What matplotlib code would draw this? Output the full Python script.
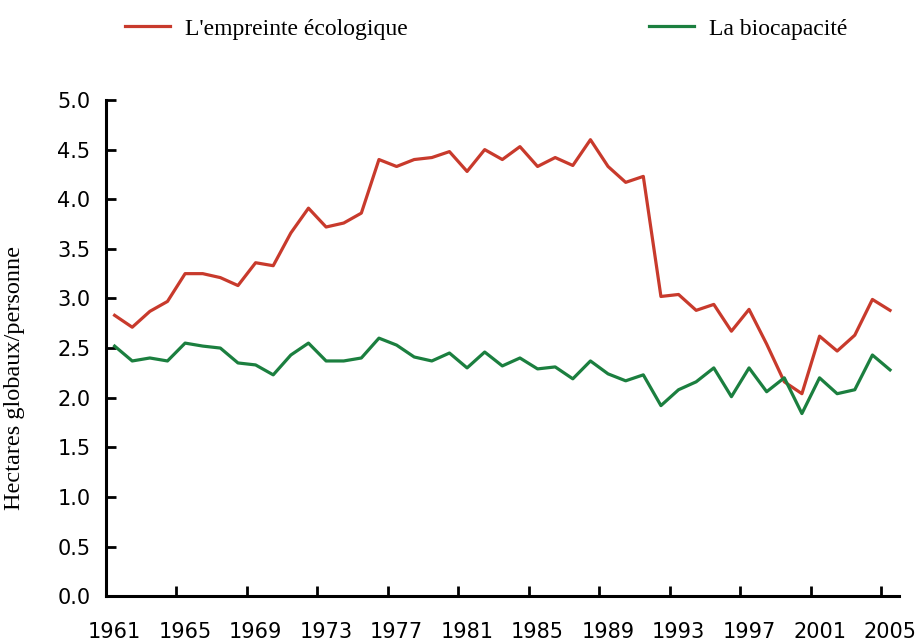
import matplotlib
matplotlib.use('Agg')
import matplotlib.pyplot as plt
import numpy as np

years = list(range(1961, 2006))

# hectares globaux par personne
empreinte = [2.83, 2.71, 2.87, 2.97, 3.25, 3.25, 3.21, 3.13, 3.36, 3.33,
             3.66, 3.91, 3.72, 3.76, 3.86, 4.40, 4.33, 4.40, 4.42, 4.48,
             4.28, 4.50, 4.40, 4.53, 4.33, 4.42, 4.34, 4.60, 4.33, 4.17,
             4.23, 3.02, 3.04, 2.88, 2.94, 2.67, 2.89, 2.54, 2.16, 2.04,
             2.62, 2.47, 2.63, 2.99, 2.88]
biocapacite = [2.52, 2.37, 2.40, 2.37, 2.55, 2.52, 2.50, 2.35, 2.33, 2.23,
               2.43, 2.55, 2.37, 2.37, 2.40, 2.60, 2.53, 2.41, 2.37, 2.45,
               2.30, 2.46, 2.32, 2.40, 2.29, 2.31, 2.19, 2.37, 2.24, 2.17,
               2.23, 1.92, 2.08, 2.16, 2.30, 2.01, 2.30, 2.06, 2.20, 1.84,
               2.20, 2.04, 2.08, 2.43, 2.28]

year_labels = years[::4]
y_ticks = [0.0, 0.5, 1.0, 1.5, 2.0, 2.5, 3.0, 3.5, 4.0, 4.5, 5.0]

red = '#c83a2c'
green = '#1b7f3f'
serif = ['Liberation Serif', 'DejaVu Serif']
sans = ['DejaVu Sans']

fig = plt.figure(figsize=(9.2, 6.41), dpi=100)
ax = fig.add_axes([0.115, 0.070, 0.862, 0.774])

ax.plot(years, empreinte, color=red, lw=2.3, label="L'empreinte écologique")
ax.plot(years, biocapacite, color=green, lw=2.3, label='La biocapacité')

ax.set_xlim(1960.5, 2005.5)
ax.set_ylim(0, 5)

# labels under each 4th year, tick marks between categories
ax.set_xticks(year_labels)
ax.set_xticklabels([str(y) for y in year_labels], fontsize=15, family=sans)
ax.tick_params(axis='x', which='major', length=0, pad=18.5)
ax.set_xticks([y + 3.5 for y in year_labels[:-1]], minor=True)
ax.tick_params(axis='x', which='minor', direction='in', length=7, width=2)

ax.set_yticks(y_ticks)
ax.set_yticklabels([f'{v:.1f}' for v in y_ticks], fontsize=15, family=sans)
ax.tick_params(axis='y', direction='in', length=7, width=2, pad=11)

for side in ['top', 'right']:
    ax.spines[side].set_visible(False)
for side in ['left', 'bottom']:
    ax.spines[side].set_linewidth(2.2)

ax.set_ylabel('Hectares globaux/personne', fontsize=17.5, family=serif, labelpad=18)
ax.yaxis.set_label_coords(-0.102, 0.44)

fig.legend(loc='upper left', bbox_to_anchor=(0.113, 1.005), ncol=2, frameon=False,
           prop={'family': serif, 'size': 17}, handlelength=1.9,
           columnspacing=10.2, handletextpad=0.64)

fig.savefig('out.png', dpi=100)
